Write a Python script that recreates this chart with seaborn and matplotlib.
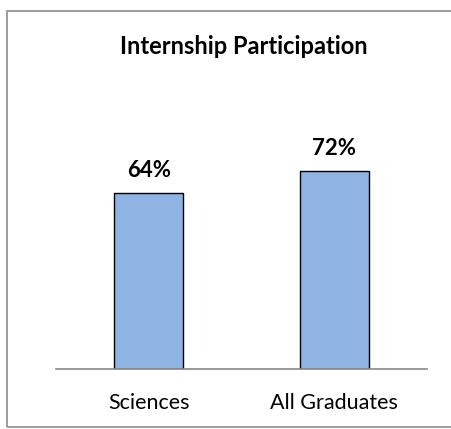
"""Internship participation bar chart."""
import matplotlib
matplotlib.use('Agg')
import matplotlib.pyplot as plt
from matplotlib.patches import Rectangle
import pandas as pd
import seaborn as sns

categories = ['Sciences', 'All Graduates']
participation = [64, 72]
title = 'Internship Participation'

sns.set_style('white')
plt.rcParams['font.family'] = ['Lato', 'DejaVu Sans']
plt.rcParams['text.color'] = 'black'
plt.rcParams['xtick.color'] = 'black'

W, H = 452, 429
fig = plt.figure(figsize=(W / 100, H / 100), dpi=100)
ax = fig.add_axes([56 / W, (H - 369) / H, 371 / W, 275 / H])

df = pd.DataFrame({'group': categories, 'pct': participation})
sns.barplot(data=df, x='group', y='pct', color='#8EB4E3', saturation=1,
            width=0.37, edgecolor='black', linewidth=1, ax=ax)

for i, v in enumerate(participation):
    ax.annotate(f'{v}%', (i, v), xytext=(0, 11.5), textcoords='offset points',
                ha='center', va='baseline', fontsize=16, fontweight='bold')

ax.set_ylim(0, 100)
ax.set_xlim(-0.5, 1.5)
ax.set_xlabel('')
ax.set_ylabel('')
ax.set_yticks([])
for side in ['left', 'top', 'right']:
    ax.spines[side].set_visible(False)
ax.spines['bottom'].set_color('#888888')
ax.spines['bottom'].set_linewidth(1.2)
ax.tick_params(axis='x', length=0, pad=17, labelsize=15.5, labelcolor='black')

fig.text(244 / W, 1 - 54 / H, title, ha='center', va='baseline',
         fontsize=17, fontweight='bold')

fig.patches.append(Rectangle((7 / W, 2 / H), 1.0, 1 - 13 / H,
                             transform=fig.transFigure, fill=False,
                             edgecolor='#8c8c8c', linewidth=1.2))

fig.savefig('out.png', dpi=100)
